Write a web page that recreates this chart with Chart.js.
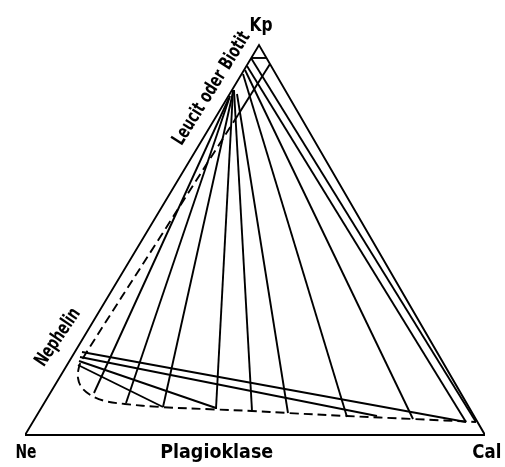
<!DOCTYPE html>
<html><head><meta charset="utf-8">
<script src="https://cdn.jsdelivr.net/npm/chart.js@4/dist/chart.umd.min.js"></script>
<style>html,body{margin:0;padding:0;background:#fff;overflow:hidden}#wrap{width:505px;height:467px}</style>
</head><body><div id="wrap"><canvas id="c" width="505" height="467"></canvas></div>
<script>
// Ternary frame corners (base Ne–Cal = 0..100, Kp apex)
const vertexNames = ['Ne', 'Cal', 'Kp'];
const vertexX = [0, 100, 50.87];
const vertexY = [0, 0, 84.78];

// Tie lines: Leucit/Biotit (top) -> Plagioklase (bottom)
const fanTopX    = [44.35, 44.57, 45.22, 45.22, 45.43, 46.09, 47.39, 47.83, 48.26, 49.13];
const fanTopY    = [73.26, 73.70, 74.57, 75.00, 75.00, 74.13, 78.48, 79.35, 80.22, 81.96];
const fanBottomX = [15.00, 21.96, 30.00, 41.52, 49.35, 57.17, 70.00, 84.35, 95.87, 98.04];
const fanBottomY = [9.13, 6.96, 6.09, 5.65, 5.22, 4.78, 3.91, 3.48, 2.83, 2.83];

// Short cap near Kp
const capX = [49.13, 52.39];
const capY = [81.96, 81.96];

// Tie lines: Nephelin -> Plagioklase
const nephStartX = [12.39, 11.96, 11.74, 11.52];
const nephStartY = [18.04, 16.96, 16.09, 15.22];
const nephEndX   = [95.87, 76.52, 41.52, 30.00];
const nephEndY   = [2.83, 4.13, 5.87, 6.09];

// Field boundary: solid part, then dashed curve
const boundarySolidX = [53.26, 46.30];
const boundarySolidY = [80.65, 69.57];
const boundaryDashX = [46.30, 29.46, 12.61, 11.74, 11.52, 12.39, 14.57, 17.39, 21.74, 29.35, 41.52, 49.35, 57.17, 70.00, 84.35, 98.04];
const boundaryDashY = [69.57, 43.15, 16.74, 14.78, 12.39, 10.22, 8.48, 7.39, 6.74, 6.09, 5.54, 5.22, 4.78, 4.13, 3.48, 2.83];

// Text labels
const labelTexts = ['Kp', 'Leucit oder Biotit', 'Nephelin', 'Ne', 'Plagioklase', 'Cal'];
const labelX = [51.3, 40.6, 7.2, 0.2, 41.67, 100.4];
const labelY = [88.9, 75.3, 21.2, -4.0, -4.0, -4.0];

function pts(xs, ys) { return xs.map((x, i) => ({x: x, y: ys[i]})); }

const INK = '#000';
const datasets = [];
function seg(data, dash, tension) {
  datasets.push({data: data, showLine: true, borderColor: INK, borderWidth: 1.9,
    pointRadius: 0, fill: false, borderDash: dash || [], tension: tension || 0,
    borderCapStyle: 'butt', borderJoinStyle: 'miter'});
}
seg(pts(vertexX.concat([vertexX[0]]), vertexY.concat([vertexY[0]])));
for (let i = 0; i < fanTopX.length; i++) seg(pts([fanTopX[i], fanBottomX[i]], [fanTopY[i], fanBottomY[i]]));
seg(pts(capX, capY));
for (let i = 0; i < nephStartX.length; i++) seg(pts([nephStartX[i], nephEndX[i]], [nephStartY[i], nephEndY[i]]));
seg(pts(boundarySolidX, boundarySolidY));
seg(pts(boundaryDashX, boundaryDashY), [9, 5], 0.35);

// label styling (rotation in degrees, target width in px)
const labelStyle = [
  {rot: 0, w: 23}, {rot: -58, w: 130}, {rot: -56, w: 66},
  {rot: 0, w: 21}, {rot: 0, w: 113}, {rot: 0, w: 29}
];

const textPlugin = {
  id: 'texts',
  afterDatasetsDraw(chart) {
    const ctx = chart.ctx, xs = chart.scales.x, ys = chart.scales.y;
    ctx.save();
    ctx.fillStyle = INK;
    ctx.font = 'bold 19px "DejaVu Sans"';
    ctx.textAlign = 'center';
    ctx.textBaseline = 'middle';
    labelTexts.forEach((t, i) => {
      const px = xs.getPixelForValue(labelX[i]);
      const py = ys.getPixelForValue(labelY[i]);
      const st = labelStyle[i];
      const mw = ctx.measureText(t).width;
      ctx.save();
      ctx.translate(px, py);
      ctx.rotate(st.rot * Math.PI / 180);
      ctx.scale(st.w / mw, 1);
      ctx.fillText(t, 0, 0);
      ctx.restore();
    });
    ctx.restore();
  }
};

new Chart(document.getElementById('c'), {
  type: 'scatter',
  data: {datasets: datasets},
  options: {
    responsive: false, animation: false, devicePixelRatio: 1,
    layout: {padding: {left: 25, right: 20, top: 0, bottom: 0}},
    scales: {
      x: {type: 'linear', min: 0, max: 100, display: false},
      y: {type: 'linear', min: -6.957, max: 94.565, display: false}
    },
    plugins: {legend: {display: false}, tooltip: {enabled: false}}
  },
  plugins: [textPlugin]
});
</script></body></html>
